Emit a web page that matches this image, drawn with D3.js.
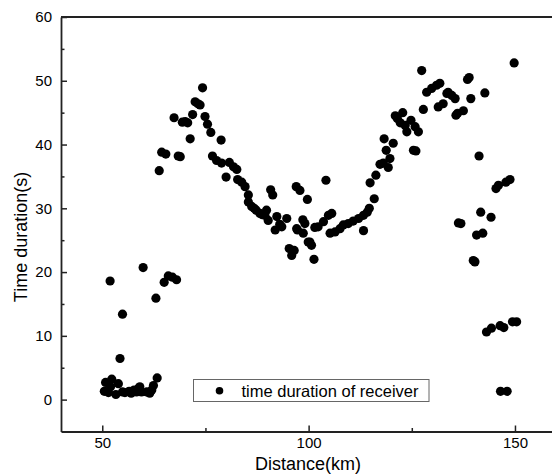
<!DOCTYPE html>
<html>
<head>
<meta charset="utf-8">
<script src="https://cdn.jsdelivr.net/npm/d3@7/dist/d3.min.js"></script>
<style>
  html, body { margin: 0; padding: 0; background: #fff; }
  svg { display: block; }
  text { font-family: Arial, "Liberation Sans", sans-serif; fill: #000; }
</style>
</head>
<body>
<svg id="chart" width="552" height="475"></svg>
<script>
// Data
const distance = [
  50.5, 51.5, 50.8, 52.3, 53.9, 53.3, 55.5, 56.5, 57.7, 59.1, 59.5, 60.8, 62.0, 62.4, 54.9, 58.3, 63.3,
  52.0, 57.0, 61.5, 58.8,
  51.9, 59.9, 54.9, 54.3, 63.0, 65.0, 66.0, 67.0, 68.0,
  74.3, 72.5, 73.7, 73.2, 67.4, 69.4, 70.7, 70.1, 71.9, 74.9, 75.5, 76.3, 71.3, 78.8,
  64.4, 65.4, 68.4, 68.9, 63.8, 76.7, 77.7, 78.9, 80.8, 81.8, 82.6, 80.0, 82.8, 83.8, 84.6,
  85.4, 85.4, 86.2, 87.3, 88.2, 89.4, 89.8, 90.2, 90.8, 91.3, 92.3, 91.9, 93.5, 94.7,
  86.8, 88.8, 93.0,
  97.0, 97.9, 99.7, 97.1, 98.6, 99.1, 99.9, 95.3, 96.5, 95.9,
  97.3, 98.7, 100.3, 100.7, 101.3, 101.5, 102.3, 103.6, 104.8, 105.6, 104.2,
  105.2, 106.4, 107.6, 108.4, 109.6, 110.8, 112.1, 113.3, 114.2, 114.7, 113.3,
  115.9, 114.9, 116.3, 117.3, 118.1, 119.3, 119.7, 118.8, 120.5, 118.3, 125.4, 126.0,
  122.2, 121.5, 122.8, 123.4, 124.8, 123.8, 125.8, 126.6, 127.8, 121.0,
  127.4, 128.6, 129.8, 131.0, 131.8, 133.5, 131.4, 132.6, 133.8, 134.7, 135.5,
  138.5, 138.9, 139.3, 142.7, 135.7, 137.5, 136.1,
  149.8, 141.3, 145.4, 146.0, 147.8, 148.8, 141.7, 144.2, 136.3, 136.9, 140.7, 142.2,
  139.9, 140.3, 143.1, 144.3, 146.4, 147.3, 149.4, 150.4, 146.5, 148.1
];
const duration = [
  1.3, 1.1, 2.7, 3.2, 2.5, 0.8, 1.1, 1.3, 1.5, 2.0, 1.2, 1.2, 1.5, 2.2, 1.2, 1.2, 3.4,
  2.0, 1.0, 1.0, 1.8,
  18.6, 20.7, 13.4, 6.45, 15.9, 18.4, 19.4, 19.2, 18.8,
  48.9, 46.7, 46.2, 46.4, 44.2, 43.5, 43.4, 43.6, 44.7, 44.4, 43.2, 41.9, 40.9, 40.7,
  38.8, 38.5, 38.2, 38.1, 35.9, 38.2, 37.5, 37.1, 37.2, 36.5, 36.1, 34.9, 34.5, 34.1, 33.4,
  32.1, 31.0, 30.3, 29.7, 29.2, 28.9, 29.7, 28.1, 32.9, 32.1, 28.7, 26.6, 27.1, 28.4,
  30.0, 29.0, 27.5,
  33.4, 32.8, 31.4, 26.8, 28.2, 27.6, 24.7, 23.7, 23.4, 22.6,
  26.6, 26.1, 24.7, 24.2, 22.0, 27.0, 27.1, 27.9, 28.9, 29.2, 34.4,
  26.1, 26.3, 26.8, 27.4, 27.6, 28.0, 28.4, 28.9, 29.4, 30.0, 26.5,
  31.5, 34.0, 35.2, 36.9, 37.1, 36.4, 37.8, 39.1, 40.2, 40.9, 39.1, 39.0,
  43.4, 44.1, 45.0, 43.0, 43.8, 42.0, 42.8, 42.0, 45.5, 44.5,
  51.6, 48.2, 48.8, 49.3, 49.6, 48.0, 45.9, 46.4, 48.2, 47.7, 47.2,
  50.2, 50.5, 47.2, 48.1, 44.6, 45.3, 44.9,
  52.8, 38.2, 33.1, 33.6, 34.1, 34.5, 29.4, 28.6, 27.7, 27.6, 25.8, 26.1,
  21.8, 21.6, 10.6, 11.2, 11.6, 11.3, 12.2, 12.2, 1.3, 1.3
];
const xMajorTicks = [50, 100, 150];
const xMinorTicks = [75, 125];
const yMajorTicks = [0, 10, 20, 30, 40, 50, 60];
const yMinorTicks = [5, 15, 25, 35, 45, 55];
const seriesName = "time duration of receiver";
const xTitle = "Distance(km)";
const yTitle = "Time duration(s)";

const svg = d3.select("#chart");
const plotLeft = 61, plotTop = 17, plotBottom = 431.5;
const x = d3.scaleLinear().domain([40, 160]).range([plotLeft, plotLeft + 120 * 4.127]);
const y = d3.scaleLinear().domain([-5, 60]).range([plotBottom, plotTop]);

const axisColor = "#222";

// points
svg.append("g").selectAll("circle")
  .data(distance.map((d, i) => [d, duration[i]]))
  .join("circle")
  .attr("cx", d => x(d[0]))
  .attr("cy", d => y(d[1]))
  .attr("r", 4.6)
  .attr("fill", "#000");

// x axis (ticks inward)
const xAxis = d3.axisBottom(x).tickValues(xMajorTicks).tickSize(-6).tickPadding(6).tickSizeOuter(0);
const gx = svg.append("g").attr("transform", `translate(0,${plotBottom})`).call(xAxis);
const xAxisMinor = d3.axisBottom(x).tickValues(xMinorTicks).tickSize(-3.5).tickFormat("").tickSizeOuter(0);
const gx2 = svg.append("g").attr("transform", `translate(0,${plotBottom})`).call(xAxisMinor);
gx2.select(".domain").remove();

// y axis
const yAxis = d3.axisLeft(y).tickValues(yMajorTicks).tickSize(-6).tickPadding(9).tickSizeOuter(0);
const gy = svg.append("g").attr("transform", `translate(${plotLeft},0)`).call(yAxis);
const yAxisMinor = d3.axisLeft(y).tickValues(yMinorTicks).tickSize(-3.5).tickFormat("").tickSizeOuter(0);
const gy2 = svg.append("g").attr("transform", `translate(${plotLeft},0)`).call(yAxisMinor);
gy2.select(".domain").remove();

[gx, gx2, gy, gy2].forEach(g => {
  g.selectAll("line").attr("stroke", axisColor).attr("stroke-width", 1.5);
  g.selectAll(".domain").attr("stroke", axisColor).attr("stroke-width", 1.8);
  g.selectAll("text").style("font-size", "15px").attr("fill", "#000")
   .style("font-family", 'Arial, "Liberation Sans", sans-serif');
});

// top border
svg.append("line")
  .attr("x1", plotLeft).attr("x2", 552)
  .attr("y1", plotTop).attr("y2", plotTop)
  .attr("stroke", axisColor).attr("stroke-width", 1.8);

// titles
svg.append("text")
  .attr("x", 308).attr("y", 470)
  .attr("text-anchor", "middle")
  .style("font-size", "18px")
  .text(xTitle);
svg.append("text")
  .attr("transform", "translate(27,237) rotate(-90)")
  .attr("text-anchor", "middle")
  .style("font-size", "18px")
  .text(yTitle);

// legend
const lg = svg.append("g");
lg.append("rect")
  .attr("x", 193.5).attr("y", 379.5)
  .attr("width", 235.5).attr("height", 22)
  .attr("fill", "#fff").attr("stroke", "#666").attr("stroke-width", 1);
lg.append("circle").attr("cx", 219.5).attr("cy", 390.7).attr("r", 3.8).attr("fill", "#000");
lg.append("text")
  .attr("x", 241.5).attr("y", 396.5)
  .style("font-size", "16.5px")
  .text(seriesName);
</script>
</body>
</html>
